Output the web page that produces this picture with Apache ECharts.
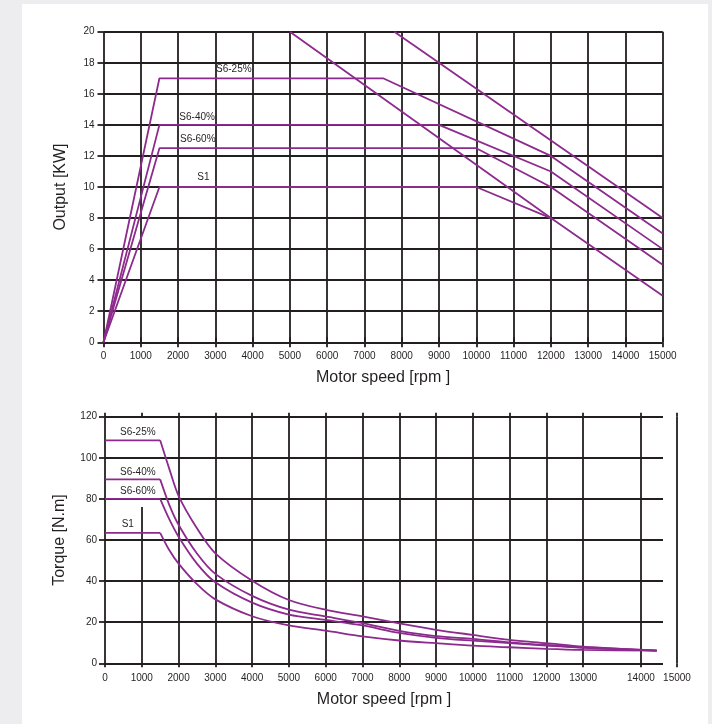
<!DOCTYPE html>
<html><head><meta charset="utf-8">
<script src="https://cdn.jsdelivr.net/npm/echarts@6/dist/echarts.min.js"></script>
<style>
html,body{margin:0;padding:0;background:#ededf0;width:712px;height:724px;overflow:hidden}
#panel{position:absolute;left:22px;top:4px;width:686px;height:720px;background:#fff}
#chart{position:absolute;left:0;top:0;width:712px;height:724px}
</style></head><body><div id="panel"></div><div id="chart"></div>
<script>
// ---------- DATA ----------
const curveNames = ['S6-25%', 'S6-40%', 'S6-60%', 'S1'];

// Output [KW] vs Motor speed [rpm]
const outputS625 = [[0, 0], [1500, 17], [7500, 17], [12000, 12], [15000, 7]];
const outputS640 = [[0, 0], [1500, 14], [9000, 14], [12000, 11], [15000, 6]];
const outputS660 = [[0, 0], [1500, 12.5], [10000, 12.5], [12000, 10], [15000, 5]];
const outputS1   = [[0, 0], [1500, 10], [10000, 10], [12000, 8], [15000, 3]];
const outputLimitA = [[5000, 20], [12000, 8]];
const outputLimitB = [[7800, 20], [15000, 8]];

// Torque [N.m] vs Motor speed [rpm]
const torqueSpeeds = [1500, 1750, 2000, 2500, 3000, 4000, 5000, 6000, 7000, 8000, 9000, 10000, 11000, 12000, 13000, 15000];
const torqueS625 = [108.5, 94.5, 81.5, 65.7, 53.5, 40.2, 30.8, 26.0, 22.8, 19.4, 16.3, 13.8, 11.4, 9.8, 8.1, 6.2];
const torqueS640 = [89.5, 77.0, 67.4, 53.4, 43.5, 32.8, 26.1, 22.8, 19.5, 15.8, 13.2, 11.9, 10.2, 8.9, 7.8, 6.2];
const torqueS660 = [80.0, 70.0, 61.6, 48.5, 39.4, 29.5, 23.7, 21.1, 18.4, 14.8, 12.4, 11.0, 9.8, 8.6, 7.5, 6.2];
const torqueS1   = [63.5, 55.0, 48.5, 38.5, 31.1, 22.9, 18.4, 15.9, 13.1, 11.1, 9.8, 8.6, 7.8, 7.0, 6.5, 6.2];

// Tick labels
const outputSpeedTicks = [0, 15000, 1000];        // min, max, step
const outputTicks = [0, 20, 2];
const torqueTicks = [0, 120, 20];
const torqueTickValues = [0, 1000, 2000, 3000, 4000, 5000, 6000, 7000, 8000, 9000, 10000, 11000, 12000, 13000, 14570];
const torqueTickLabels = ['0', '1000', '2000', '3000', '4000', '5000', '6000', '7000', '8000', '9000', '10000', '11000', '12000', '13000', '14000'];
const torqueEndTickValue = [15548];
const torqueEndTickLabel = ['15000'];

// ---------- STYLE ----------
const FONT = '"Liberation Sans", Arial, Helvetica, sans-serif';
const INK = '#231f20';
const PURPLE = '#8c2b8d';
const GW = 1.8;
const gridLine = { show: true, lineStyle: { color: INK, width: GW } };
const tickStyle = (len) => ({ show: true, length: len, lineStyle: { color: INK, width: GW } });
const lbl = { fontSize: 10, color: INK, fontFamily: FONT };
const titleStyle = { fontSize: 16, color: INK, fontFamily: FONT };

function pairs(xs, ys) { return xs.map((x, i) => [x, ys[i]]); }

function textMark(name, coord) {
  return {
    symbol: 'circle', symbolSize: 0, silent: true, animation: false,
    label: { show: true, position: 'right', distance: 0, formatter: name, ...lbl },
    data: [{ coord: coord, name: name }]
  };
}

const lineBase = { type: 'line', symbol: 'none', animation: false, silent: true,
  lineStyle: { color: PURPLE, width: 1.8 }, itemStyle: { color: PURPLE } };

const outputSets = [outputS625, outputS640, outputS660, outputS1];
const outputLabelAt = [[3018, 17.6], [2034, 14.5], [2052, 13.1], [2517, 10.65]];
const torqueSets = [torqueS625, torqueS640, torqueS660, torqueS1];
const torqueLabelAt = [[408, 112.4], [408, 92.9], [408, 83.5], [454, 67.6]];

const series = [];
outputSets.forEach((d, i) => {
  series.push({ ...lineBase, name: curveNames[i], xAxisIndex: 0, yAxisIndex: 0, data: d,
    markPoint: textMark(curveNames[i], outputLabelAt[i]) });
});
series.push({ ...lineBase, name: 'limitA', xAxisIndex: 0, yAxisIndex: 0, data: outputLimitA });
series.push({ ...lineBase, name: 'limitB', xAxisIndex: 0, yAxisIndex: 0, data: outputLimitB });

torqueSets.forEach((d, i) => {
  series.push({ ...lineBase, name: curveNames[i] + ' flat', xAxisIndex: 2, yAxisIndex: 2,
    data: [[0, d[0]], [torqueSpeeds[0], d[0]]],
    markPoint: textMark(curveNames[i], torqueLabelAt[i]) });
  series.push({ ...lineBase, name: curveNames[i] + ' T', xAxisIndex: 2, yAxisIndex: 2,
    smooth: 0.3, data: pairs(torqueSpeeds, d) });
});

const gridTickValues = torqueTickValues.filter(v => v !== 1000);

const chart = echarts.init(document.getElementById('chart'), null, { renderer: 'canvas' });
chart.setOption({
  backgroundColor: 'transparent',
  animation: false,
  grid: [
    { left: 103.5, right: 49.3, top: 31.7, height: 310.6 },
    { left: 105, right: 49, top: 416.7, height: 246.6 },
    { left: 105, right: 35, top: 416.7, height: 246.6 },
    { left: 105, right: 49, top: 507.1, height: 156.2 }
  ],
  xAxis: [
    { gridIndex: 0, type: 'value', position: 'bottom', min: outputSpeedTicks[0], max: outputSpeedTicks[1], interval: outputSpeedTicks[2],
      axisLine: { show: false }, axisTick: tickStyle(5), splitLine: gridLine,
      axisLabel: { ...lbl, margin: 9, formatter: v => String(v) },
      name: 'Motor speed [rpm ]', nameLocation: 'middle', nameGap: 27, nameTextStyle: titleStyle },
    { gridIndex: 0, type: 'value', position: 'top', min: outputSpeedTicks[0], max: outputSpeedTicks[1], interval: outputSpeedTicks[2],
      axisLine: { show: false }, axisTick: tickStyle(5), splitLine: { show: false }, axisLabel: { show: false } },
    { gridIndex: 1, type: 'value', position: 'bottom', min: 0, max: 15170,
      axisLine: { show: false },
      axisTick: { ...tickStyle(4), customValues: gridTickValues },
      splitLine: gridLine,
      axisLabel: { ...lbl, margin: 10, customValues: torqueTickValues,
        formatter: v => torqueTickLabels[torqueTickValues.indexOf(v)] ?? '' },
      name: 'Motor speed [rpm ]', nameLocation: 'middle', nameGap: 28, nameTextStyle: titleStyle },
    { gridIndex: 1, type: 'value', position: 'top', min: 0, max: 15170,
      axisLine: { show: false }, axisTick: { ...tickStyle(4), customValues: torqueTickValues },
      splitLine: { show: false }, axisLabel: { show: false } },
    { gridIndex: 2, type: 'value', position: 'bottom', min: 0, max: torqueEndTickValue[0],
      axisLine: { show: false }, axisTick: { ...tickStyle(4), customValues: torqueEndTickValue },
      splitLine: gridLine,
      axisLabel: { ...lbl, margin: 10, customValues: torqueEndTickValue, formatter: () => torqueEndTickLabel[0] } },
    { gridIndex: 2, type: 'value', position: 'top', min: 0, max: torqueEndTickValue[0],
      axisLine: { show: false }, axisTick: { ...tickStyle(4), customValues: torqueEndTickValue },
      splitLine: { show: false }, axisLabel: { show: false } },
    { gridIndex: 3, type: 'value', position: 'bottom', min: 0, max: 15170,
      axisLine: { show: false }, axisTick: { ...tickStyle(4), customValues: [1000] },
      splitLine: gridLine, axisLabel: { show: false } }
  ],
  yAxis: [
    { gridIndex: 0, type: 'value', position: 'left', min: outputTicks[0], max: outputTicks[1], interval: outputTicks[2],
      axisLine: { show: false }, axisTick: tickStyle(6), splitLine: gridLine,
      axisLabel: { ...lbl, margin: 9 },
      name: 'Output [KW]', nameLocation: 'middle', nameGap: 35, nameTextStyle: titleStyle },
    { gridIndex: 0, type: 'value', position: 'right', min: outputTicks[0], max: outputTicks[1], interval: outputTicks[2],
      axisLine: { show: false }, axisTick: tickStyle(7), splitLine: { show: false }, axisLabel: { show: false } },
    { gridIndex: 1, type: 'value', position: 'left', min: torqueTicks[0], max: torqueTicks[1], interval: torqueTicks[2],
      axisLine: { show: false }, axisTick: tickStyle(6), splitLine: gridLine,
      axisLabel: { ...lbl, margin: 8 },
      name: 'Torque [N.m]', nameLocation: 'middle', nameGap: 37, nameTextStyle: titleStyle },
    { gridIndex: 2, type: 'value', show: false, min: 0, max: 120 },
    { gridIndex: 3, type: 'value', show: false, min: 0, max: 76 }
  ],
  series: series
});
</script></body></html>
